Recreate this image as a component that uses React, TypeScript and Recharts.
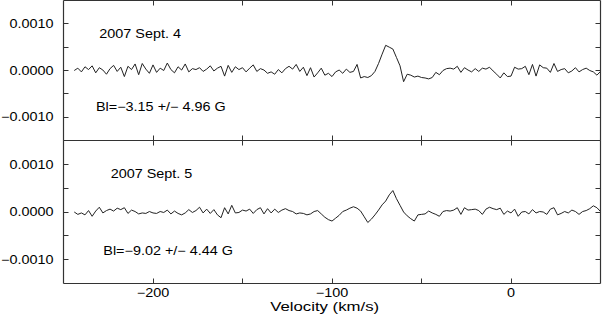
import React from 'react';
import { LineChart, Line, XAxis, YAxis } from 'recharts';

// velocity grid, km/s
const velocity = [
  -244, -242, -240, -238, -236, -234, -232, -230, -228, -226,
  -224, -222, -220, -218, -216, -214, -212, -210, -208, -206,
  -204, -202, -200, -198, -196, -194, -192, -190, -188, -186,
  -184, -182, -180, -178, -176, -174, -172, -170, -168, -166,
  -164, -162, -160, -158, -156, -154, -152, -150, -148, -146,
  -144, -142, -140, -138, -136, -134, -132, -130, -128, -126,
  -124, -122, -120, -118, -116, -114, -112, -110, -108, -106,
  -104, -102, -100, -98, -96, -94, -92, -90, -88, -86,
  -84, -82, -80, -78, -76, -74, -72, -70, -68, -66,
  -64, -62, -60, -58, -56, -54, -52, -50, -48, -46,
  -44, -42, -40, -38, -36, -34, -32, -30, -28, -26,
  -24, -22, -20, -18, -16, -14, -12, -10, -8, -6,
  -4, -2, 0, 2, 4, 6, 8, 10, 12, 14,
  16, 18, 20, 22, 24, 26, 28, 30, 32, 34,
  36, 38, 40, 42, 44, 46, 48, 50,
];

// Stokes V profiles, in units of 1e-4
const sept4 = [
  0, 0.5, -0.3, 0.8, 0.2, 1.0, -0.5, 0.6, 0.1, -0.8,
  0.4, 1.1, -0.2, 0.7, -1.3, 0.9, 0.2, 1.4, -0.9, 1.5,
  0.3, -0.6, 1.2, -0.4, 0.5, 0, 1.6, 0.2, -0.5, 0.8,
  0.1, 1.4, -0.3, 0.4, 0.2, 0.6, -0.2, 0.3, 1.0, -0.1,
  0.5, 0.9, -1.2, 1.1, -0.4, 0.8, 0.2, 0.6, -0.3, 0.5,
  1.2, -0.2, 0.4, 0.1, -0.6, -0.3, -0.8, 0.2, -0.5, 0.4,
  0.9, 0.3, 1.3, -0.2, 0.7, -1.1, 0.6, -1.4, -0.5, 0.5,
  -1.0, -0.6, -1.3, -0.3, 0.1, -0.6, 0.3, -0.4, -0.2, 1.3,
  -1.6, -1.3, -1.5, -1.1, -0.2, 1.5, 3.5, 5.4, 5.0, 4.6,
  2.8, 1.0, -2.4, -0.8, -1.0, -1.4, -1.2, -1.5, -1.6, -1.8,
  -1.5, -0.4, -0.9, 0, 0.4, 0.5, 0.3, 0.9, -0.4, 0.6,
  0.1, -0.3, 0.4, -0.2, 0.5, 0.3, 0.7, -0.1, -0.8, -1.6,
  -0.5, -1.3, -1.2, 0.7, 0.3, 0.4, 0.9, -0.9, 1.3, -1.2,
  1.2, 0.6, 0.5, -0.4, 1.5, -0.2, 0.2, 0.4, -0.5, -0.1,
  0.6, -0.3, 0.2, 0.5, 0.0, -0.3, -1.0, -0.2,
];

const sept5 = [
  0, -0.5, -0.2, -0.6, 0.3, -0.9, 0.2, 1.0, -0.2, 0.3,
  0.6, 0.2, 0.8, 0.5, 0.9, -0.3, 0.4, 0.1, -0.4, -0.2,
  -0.3, 0.1, -0.2, -0.3, 0.1, -0.1, 0.4, -0.4, 0.2, -0.3,
  -0.6, -0.2, 0.5, -0.1, 0.3, 1.0, -0.2, 0.6, -0.3, 0.5,
  -0.6, -1.2, 0.9, -0.4, 1.4, -0.2, -0.1, 0.4, 0.2, 0.6,
  -0.3, 0.5, 0.9, -0.4, 0.7, -0.2, 0.6, -0.1, 0.4, 0.7,
  0.3, 0.1, -0.4, -0.2, -0.3, -0.6, -0.4, 0.1, 0.3, -0.4,
  -1.1, -1.6, -1.9, -1.3, -0.7, 0.1, 0.4, 0.8, 1.1, 0.8,
  0.2, -1.0, -2.2, -1.5, -0.6, 0.4, 1.5, 2.3, 3.6, 4.5,
  2.8, 1.4, 0.0, -0.8, -1.4, -1.9, -0.6, -0.5, -0.4, 0.2,
  -0.2, -0.5, -0.9, 0.1, 0.3, 0.2, 0.4, 0.9, -0.5, 0.9,
  0.4, 0.5, 0.6, 0.3, -0.5, 0.6, 1.0, 0.7, 0.5, 0.8,
  -0.5, 0.2, -0.2, 0.6, -0.9, 0.0, 0.1, -0.4, 0.5, -0.2,
  0.1, 0.0, -0.5, 0.6, 0.9, -0.6, -0.3, 0.1, -0.2, 0.4,
  0.1, -0.5, 0.1, 0.3, 0.7, 1.3, 0.9, 0.1,
];

const xDomain = [-250, 50];
const yDomain = [-0.0015, 0.0015];
const xTicks = [-200, -150, -100, -50, 0];
const xLabels = [-200, -100, 0];
const yTicks = [-0.001, -0.0005, 0, 0.0005, 0.001];
const yLabels = [-0.001, 0, 0.001];

const topData = velocity.map((v, i) => ({ v, s: sept4[i] * 1e-4 }));
const botData = velocity.map((v, i) => ({ v, s: sept5[i] * 1e-4 }));

const AXIS = '#333';
const FONT = '"Liberation Sans", Arial, Helvetica, sans-serif';
const FS = 12;
const SX = 1.2; // the original lettering is a bit wide
const TL = 5; // inward tick length
const FRAME_W = 1.2;
const PLOT_TOP = 0.5; // half pixel -> crisp frame line
const PLOT_LEFT = 63.5;
const PLOT_RIGHT = 600.5;

const minus = (s: string) => s.replace('-', '\u2212');
const crisp = (n: number) => Math.round(n - 0.5) + 0.5;

// text stretched horizontally, like the source figure
const Wide = ({ x, y, anchor = 'start', children }: any) => (
  <text
    transform={`translate(${x},${y}) scale(${SX},1)`}
    textAnchor={anchor}
    fontSize={FS}
    fontFamily={FONT}
    fill="#000"
  >
    {children}
  </text>
);

// y ticks: left + right twin; the first one also draws the side frame lines
const makeLeftTick = (plotBottom: number) => (p: any) => {
  const v = p.payload.value;
  const y = crisp(p.y);
  return (
    <g>
      {v === yTicks[0] && (
        <g stroke={AXIS} strokeWidth={FRAME_W}>
          <line x1={PLOT_LEFT} y1={PLOT_TOP} x2={PLOT_LEFT} y2={plotBottom} />
          <line x1={PLOT_RIGHT} y1={PLOT_TOP} x2={PLOT_RIGHT} y2={plotBottom} />
        </g>
      )}
      <line x1={PLOT_LEFT} y1={y} x2={PLOT_LEFT + TL} y2={y} stroke={AXIS} />
      <line x1={PLOT_RIGHT} y1={y} x2={PLOT_RIGHT - TL} y2={y} stroke={AXIS} />
      {yLabels.includes(v) && (
        <Wide x={p.x - 10} y={p.y + 4.3} anchor="end">{minus(v.toFixed(4))}</Wide>
      )}
    </g>
  );
};

// x ticks: bottom + top twin; the first one also draws the top/bottom frame lines
const makeBottomTick = (plotBottom: number, labels: boolean) => (p: any) => {
  const v = p.payload.value;
  const x = crisp(p.x);
  return (
    <g>
      {v === xTicks[0] && (
        <g stroke={AXIS} strokeWidth={FRAME_W}>
          <line x1={PLOT_LEFT} y1={PLOT_TOP} x2={PLOT_RIGHT} y2={PLOT_TOP} />
          <line x1={PLOT_LEFT} y1={plotBottom} x2={PLOT_RIGHT} y2={plotBottom} />
        </g>
      )}
      <line x1={x} y1={plotBottom} x2={x} y2={plotBottom - TL} stroke={AXIS} />
      <line x1={x} y1={PLOT_TOP} x2={x} y2={PLOT_TOP + TL} stroke={AXIS} />
      {labels && xLabels.includes(v) && (
        <Wide x={p.x} y={p.y + 13.8} anchor="middle">{minus(String(v))}</Wide>
      )}
    </g>
  );
};

const Panel = ({ data, height, axisHeight, labels }: { data: any[]; height: number; axisHeight: number; labels: boolean }) => {
  const plotBottom = height - axisHeight;
  return (
    <LineChart
      width={602}
      height={height}
      data={data}
      margin={{ top: PLOT_TOP, right: 602 - PLOT_RIGHT, bottom: 0, left: 0 }}
    >
      <XAxis
        dataKey="v"
        type="number"
        domain={xDomain}
        ticks={xTicks}
        interval={0}
        allowDataOverflow
        orientation="bottom"
        height={axisHeight}
        axisLine={false}
        tickLine={false}
        tickSize={0}
        tickMargin={0}
        tick={makeBottomTick(plotBottom, labels)}
      />
      <YAxis
        type="number"
        domain={yDomain}
        ticks={yTicks}
        interval={0}
        allowDataOverflow
        width={PLOT_LEFT}
        axisLine={false}
        tickLine={false}
        tickSize={0}
        tickMargin={0}
        tick={makeLeftTick(plotBottom)}
      />
      <Line
        dataKey="s"
        type="linear"
        stroke="#222"
        strokeWidth={1}
        dot={false}
        isAnimationActive={false}
      />
    </LineChart>
  );
};

export default function App() {
  return (
    <div style={{ position: 'absolute', left: 0, top: 0, width: 602, height: 319, fontFamily: FONT, background: '#fff' }}>
      <div style={{ position: 'absolute', left: 0, top: 0 }}>
        <Panel data={topData} height={141} axisHeight={0.5} labels={false} />
      </div>
      <div style={{ position: 'absolute', left: 0, top: 140 }}>
        <Panel data={botData} height={179} axisHeight={35.5} labels={true} />
      </div>
      <svg width={602} height={319} style={{ position: 'absolute', left: 0, top: 0, pointerEvents: 'none' }}>
        <Wide x={99.3} y={37.5}>2007 Sept. 4</Wide>
        <Wide x={96} y={110.5}>Bl=−3.15 +/− 4.96 G</Wide>
        <Wide x={110.7} y={177.5}>2007 Sept. 5</Wide>
        <Wide x={103.3} y={255}>Bl=−9.02 +/− 4.44 G</Wide>
        <text x={324.7} y={310.7} textAnchor="middle" fontSize={12.5} fontFamily={FONT} fill="#000"
          textLength={109} lengthAdjust="spacingAndGlyphs">Velocity (km/s)</text>
      </svg>
    </div>
  );
}
